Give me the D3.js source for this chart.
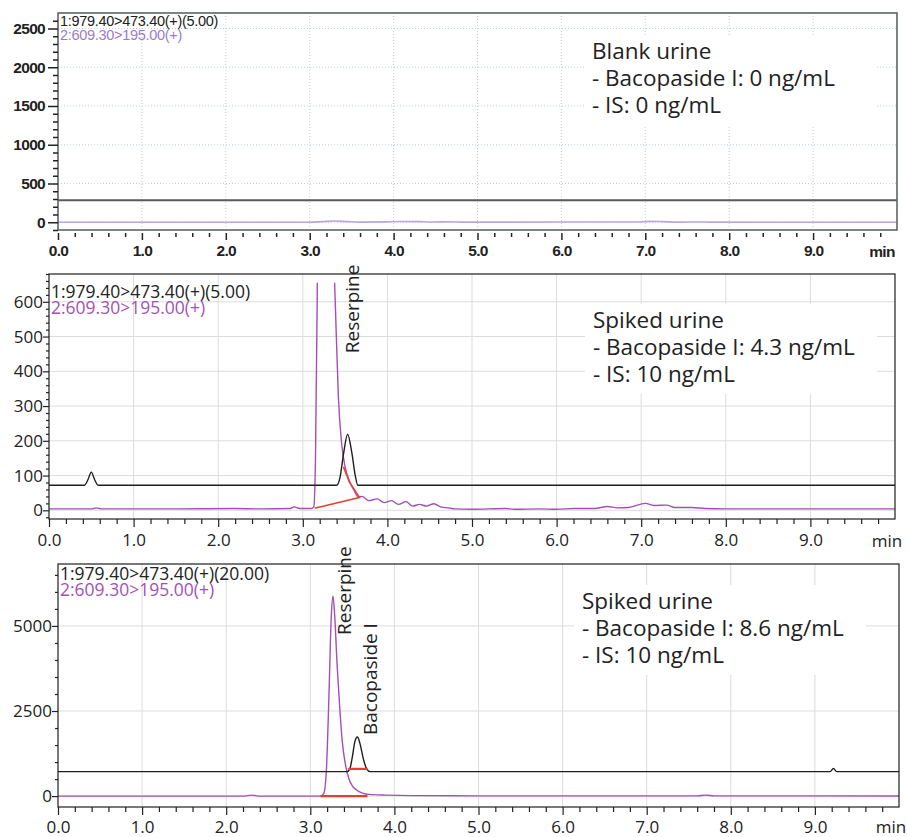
<!DOCTYPE html>
<html>
<head>
<meta charset="utf-8">
<script src="https://cdn.jsdelivr.net/npm/d3@7"></script>
<style>
body { margin: 0; background: #fff; }
svg text { font-family: "Open Sans", sans-serif; fill: #222; }
.old .ax text { font-family: "Liberation Sans", Arial, sans-serif; font-weight: bold; fill: #222; }
</style>
</head>
<body>
<svg id="chart" width="907" height="837"></svg>
<script>
// x axis (retention time, min)
let minutes = [0, 1, 2, 3, 4, 5, 6, 7, 8, 9]
let minuteLabels = ["0.0", "1.0", "2.0", "3.0", "4.0", "5.0", "6.0", "7.0", "8.0", "9.0"]

// y ticks per panel
let blankTicks = [0, 500, 1000, 1500, 2000, 2500]
let lowTicks = [0, 100, 200, 300, 400, 500, 600]
let highTicks = [0, 2500, 5000]

// MRM channel names
let channelBlack5 = "1:979.40>473.40(+)(5.00)"
let channelBlack20 = "1:979.40>473.40(+)(20.00)"
let channelPurple = "2:609.30>195.00(+)"

let blankText = ["Blank urine", "- Bacopaside I: 0 ng/mL", "- IS: 0 ng/mL"]
let spiked1Text = ["Spiked urine", "- Bacopaside I: 4.3 ng/mL", "- IS: 10 ng/mL"]
let spiked2Text = ["Spiked urine", "- Bacopaside I: 8.6 ng/mL", "- IS: 10 ng/mL"]

// traces [time, intensity]
let blankBlack = [[0, 283], [10, 283]]
let blankPurple = [[0, 0], [3.0, 0], [3.15, 8], [3.3, 16], [3.45, 8], [3.6, 2], [3.9, 5], [4.05, 9], [4.3, 8], [4.45, 3],
    [4.7, 6], [4.8, 2], [6.9, 3], [7.05, 11], [7.2, 8], [7.4, 2], [7.6, 4], [7.8, 1], [10, 0]]

let spikedBlack = [[0, 72], [0.42, 72], [0.46, 88], [0.5, 110], [0.54, 88], [0.58, 72], [3.4, 72], [3.44, 95], [3.48, 160],
    [3.53, 219], [3.58, 165], [3.62, 100], [3.65, 72], [10, 72]]
let spikedPurple = [[0, 4], [0.5, 4], [0.56, 7], [0.62, 4], [1.5, 4], [2.2, 5], [2.5, 4], [2.85, 5], [2.9, 10], [2.96, 5],
    [3.1, 5], [3.13, 10], [3.15, 150], [3.17, 600], [3.19, 1500], [3.25, 2600], [3.31, 1600], [3.36, 800], [3.39, 550],
    [3.42, 330], [3.46, 190], [3.5, 125], [3.55, 85], [3.6, 60], [3.66, 38], [3.7, 40], [3.78, 28], [3.88, 33], [3.96, 22],
    [4.05, 28], [4.13, 17], [4.22, 25], [4.3, 12], [4.38, 17], [4.46, 12], [4.55, 19], [4.63, 10], [4.72, 7], [4.8, 4],
    [5.0, 3], [5.4, 5], [5.5, 3], [5.8, 4], [6.0, 3], [6.2, 5], [6.45, 5], [6.6, 11], [6.72, 7], [6.85, 8], [7.05, 20],
    [7.15, 14], [7.3, 15], [7.4, 8], [7.6, 8], [7.75, 5], [8.0, 4], [9.0, 4], [10, 4]]
let spikedRed = [[3.48, 125], [3.55, 82], [3.67, 37], [3.14, 6]]

let highBlack = [[0, 720], [3.44, 720], [3.47, 800], [3.5, 1150], [3.53, 1600], [3.56, 1735], [3.59, 1550], [3.63, 1100],
    [3.67, 800], [3.71, 720], [9.18, 720], [9.22, 810], [9.26, 720], [10, 720]]
let highPurple = [[0, 0], [2.2, 0], [2.3, 30], [2.4, 0], [3.12, 0], [3.16, 80], [3.19, 700], [3.22, 2800], [3.25, 5300],
    [3.27, 5880], [3.29, 5300], [3.32, 3800], [3.35, 2600], [3.38, 1600], [3.42, 900], [3.46, 500], [3.5, 300],
    [3.55, 180], [3.62, 90], [3.7, 50], [3.9, 30], [4.2, 15], [5, 8], [7.6, 8], [7.7, 30], [7.8, 8], [10, 5]]
let highRedA = [[3.12, 0], [3.68, 0]]
let highRedB = [[3.45, 800], [3.68, 800]]

// peak labels: [name, time, intensity at text start]
let spikedPeaks = [["Reserpine", 3.58, 452]]
let highPeaks = [["Reserpine", 3.41, 4735], ["Bacopaside I", 3.71, 1795]]

let svg = d3.select("#chart")

function panel(cfg) {
    let g = svg.append("g").attr("class", cfg.old ? "old" : "")
    let x = d3.scaleLinear().domain([0, 10]).range([cfg.left, cfg.right])
    let y = d3.scaleLinear().domain(cfg.yDomain).range([cfg.bottom, cfg.top])
    let id = "clip" + cfg.name
    let clipY = cfg.clipTop != null ? y(cfg.clipTop) : cfg.top

    svg.append("clipPath").attr("id", id).append("rect")
        .attr("x", cfg.left).attr("y", clipY)
        .attr("width", cfg.right - cfg.left).attr("height", cfg.bottom - clipY)

    // grid
    let grid = g.append("g")
        .attr("stroke", cfg.old ? "#bcd0da" : "#dcdcdc")
        .attr("stroke-width", 1)
        .attr("stroke-dasharray", cfg.old ? "1,2" : null)
    grid.selectAll(".gx").data(minutes.slice(1)).enter().append("line")
        .attr("x1", d => x(d)).attr("x2", d => x(d)).attr("y1", cfg.top).attr("y2", cfg.bottom)
    grid.selectAll(".gy").data(cfg.yTicks).enter().append("line")
        .attr("x1", cfg.left).attr("x2", cfg.right).attr("y1", d => y(d)).attr("y2", d => y(d))

    // text box (white background hides grid)
    g.append("rect").attr("x", cfg.box[0] - 8).attr("y", cfg.box[1] - 24)
        .attr("width", 292).attr("height", 90).attr("fill", "#fff")
    g.append("g").selectAll("text").data(cfg.boxText).enter().append("text")
        .attr("x", cfg.box[0]).attr("y", (d, i) => cfg.box[1] + i * 27)
        .style("font-size", "22.5px").text(d => d)

    // traces
    let line = d3.line().x(d => x(d[0])).y(d => y(d[1])).curve(d3.curveMonotoneX)
    let traces = g.append("g").attr("clip-path", `url(#${id})`).attr("fill", "none")
    traces.append("path").datum(cfg.purple).attr("d", line)
        .attr("stroke", cfg.old ? "#baa6dd" : "#a34fb3").attr("stroke-width", cfg.old ? 1.6 : 1.4)
    traces.append("path").datum(cfg.black).attr("d", line)
        .attr("stroke", cfg.old ? "#5a5a5a" : "#1e1e1e").attr("stroke-width", cfg.old ? 2 : 1.4)
    let straight = d3.line().x(d => x(d[0])).y(d => y(d[1]))
    cfg.red.forEach(r => {
        traces.append("path").datum(r).attr("d", straight)
            .attr("stroke", "#ef3a34").attr("stroke-width", cfg.redWidth)
    })

    // frame
    g.append("rect").attr("x", cfg.left).attr("y", cfg.top)
        .attr("width", cfg.right - cfg.left).attr("height", cfg.bottom - cfg.top)
        .attr("fill", "none").attr("stroke", cfg.old ? "#5e6466" : "#1e1e1e")
        .attr("stroke-width", cfg.old ? 1.6 : 1.2)

    // x axis
    let xMinor = d3.range(0.2, 10, 0.2).filter(d => Math.abs(d - Math.round(d)) > 0.01)
    let xa = g.append("g").attr("class", "ax").attr("transform", `translate(0,${cfg.xAxisY})`)
    xa.call(d3.axisBottom(x).tickValues(minutes).tickFormat((d, i) => minuteLabels[i])
        .tickSize(cfg.old ? 7 : 8).tickPadding(cfg.xPad))
    xa.append("g").call(d3.axisBottom(x).tickValues(xMinor).tickFormat("").tickSize(cfg.old ? 4 : 5))
    xa.selectAll(".domain").remove()
    xa.selectAll("line").attr("stroke", "#222").attr("stroke-width", cfg.old ? 1.5 : 1.2)
    xa.selectAll("text").attr("font-family", null).attr("font-size", null)
        .style("font-size", cfg.fontSize + "px").attr("fill", "#222")
        .style("letter-spacing", cfg.old ? "-0.7px" : null)
    xa.append("text").attr("x", cfg.minX).attr("y", cfg.minDy).attr("text-anchor", "middle")
        .style("font-size", cfg.fontSize + "px").style("letter-spacing", cfg.old ? "-0.7px" : null).text("min")

    // y axis
    let yMinor = d3.range(cfg.yDomain[0], cfg.yDomain[1], cfg.yMinorStep)
        .map(d => Math.ceil(d / cfg.yMinorStep) * cfg.yMinorStep)
        .filter(d => cfg.yTicks.indexOf(d) < 0 && d >= cfg.yDomain[0] && d <= cfg.yDomain[1])
    let ya = g.append("g").attr("class", "ax").attr("transform", `translate(${cfg.left},0)`)
    ya.call(d3.axisLeft(y).tickValues(cfg.yTicks).tickSize(cfg.yTick).tickPadding(cfg.yPad).tickFormat(d3.format("d")))
    ya.append("g").call(d3.axisLeft(y).tickValues(yMinor).tickFormat("").tickSize(cfg.old ? 5 : 3))
    ya.selectAll(".domain").remove()
    ya.selectAll("line").attr("stroke", "#222").attr("stroke-width", cfg.old ? 1.5 : 1.2)
    ya.selectAll("text").attr("font-family", null).attr("font-size", null)
        .style("font-size", cfg.fontSize + "px").attr("fill", "#222")
        .style("letter-spacing", cfg.old ? "-0.7px" : null)

    // channel legend
    let legFont = cfg.old ? '"Liberation Sans", Arial, sans-serif' : '"Open Sans", sans-serif'
    let leg = g.append("g")
    leg.append("text").attr("x", cfg.left + 2).attr("y", cfg.legY)
        .style("font-family", legFont).style("font-size", cfg.legSize + "px")
        .style("letter-spacing", cfg.old ? "-0.3px" : null).text(cfg.legBlack)
    leg.append("text").attr("x", cfg.left + 2).attr("y", cfg.legY + cfg.legStep)
        .style("font-family", legFont).style("font-size", cfg.legSize + "px")
        .style("letter-spacing", cfg.old ? "-0.3px" : null)
        .style("fill", cfg.old ? "#9b7ccc" : "#a451b5").text(channelPurple)

    // peak names
    g.selectAll(".peak").data(cfg.peaks).enter().append("text")
        .attr("transform", d => `translate(${x(d[1])},${y(d[2])}) rotate(-90)`)
        .attr("dy", "0.35em").style("font-size", "19px").text(d => d[0])
}

panel({
    name: "blank", old: true, left: 58, right: 897, top: 13, bottom: 230, yDomain: [-100, 2700],
    yTicks: blankTicks, yMinorStep: 100, yTick: 10, yPad: 3, xAxisY: 233, xPad: 5, fontSize: 15.5,
    minX: 882, minDy: 24, black: blankBlack, purple: blankPurple, red: [], redWidth: 1.5,
    legBlack: channelBlack5, legY: 26, legStep: 14, legSize: 14.5,
    box: [592, 59], boxText: blankText, peaks: []
})

panel({
    name: "spiked1", old: false, left: 49, right: 895, top: 274, bottom: 519, yDomain: [-25, 680], clipTop: 655,
    yTicks: lowTicks, yMinorStep: 20, yTick: 6, yPad: 0, xAxisY: 519, xPad: 7, fontSize: 17,
    minX: 887, minDy: 28, black: spikedBlack, purple: spikedPurple, red: [spikedRed], redWidth: 1.5,
    legBlack: channelBlack5, legY: 298, legStep: 15.5, legSize: 17.5,
    box: [593, 328], boxText: spiked1Text, peaks: spikedPeaks
})

panel({
    name: "spiked2", old: false, left: 58, right: 899, top: 564, bottom: 807, yDomain: [-320, 6820],
    yTicks: highTicks, yMinorStep: 500, yTick: 6, yPad: 0, xAxisY: 807, xPad: 6, fontSize: 17,
    minX: 891, minDy: 26, black: highBlack, purple: highPurple, red: [highRedA, highRedB], redWidth: 2.2,
    legBlack: channelBlack20, legY: 580, legStep: 15.5, legSize: 17.5,
    box: [582, 609], boxText: spiked2Text, peaks: highPeaks
})
</script>
</body>
</html>
